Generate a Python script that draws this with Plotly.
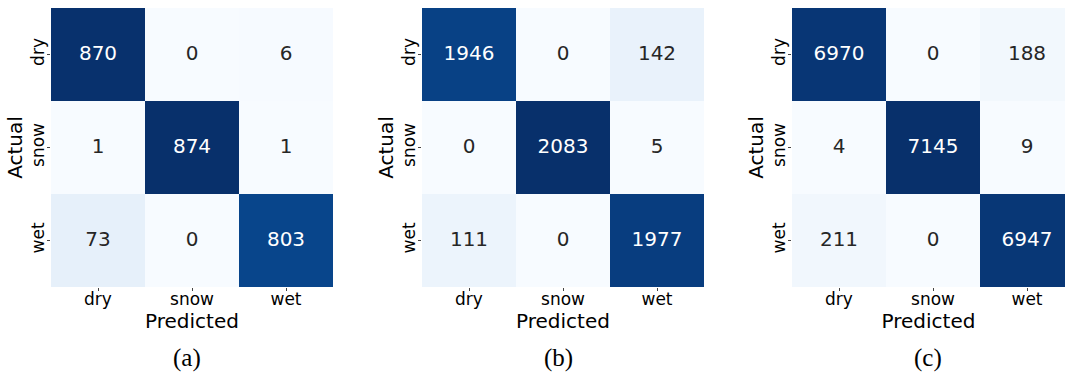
import plotly.graph_objects as go

# Confusion matrices (rows = actual, columns = predicted)
classes = ["dry", "snow", "wet"]
cm_a = [[870, 0, 6],
        [1, 874, 1],
        [73, 0, 803]]
cm_b = [[1946, 0, 142],
        [0, 2083, 5],
        [111, 0, 1977]]
cm_c = [[6970, 0, 188],
        [4, 7145, 9],
        [211, 0, 6947]]
captions = ["(a)", "(b)", "(c)"]

W, H = 1065, 374

# ColorBrewer "Blues" (same stops as matplotlib's Blues)
blues = ["#f7fbff", "#deebf7", "#c6dbef", "#9ecae1", "#6baed6",
         "#4292c6", "#2171b5", "#08519c", "#08306b"]
scale = [[i / (len(blues) - 1), c] for i, c in enumerate(blues)]


def hex_rgb(h):
    h = h.lstrip("#")
    return tuple(int(h[i:i + 2], 16) / 255 for i in (0, 2, 4))


def color_at(t):
    t = min(max(t, 0.0), 1.0)
    pos = t * (len(blues) - 1)
    i = min(int(pos), len(blues) - 2)
    f = pos - i
    a, b = hex_rgb(blues[i]), hex_rgb(blues[i + 1])
    return tuple(a[k] + (b[k] - a[k]) * f for k in range(3))


def luminance(rgb):
    lin = [c / 12.92 if c <= 0.03928 else ((c + 0.055) / 1.055) ** 2.4 for c in rgb]
    return 0.2126 * lin[0] + 0.7152 * lin[1] + 0.0722 * lin[2]


# panel placement in pixels
cell = 94.0
lefts = [51, 422, 792]
top_px, bot_px = 8, 287
ydom = [1 - bot_px / H, 1 - top_px / H]

font_main = "DejaVu Sans"
fig = go.Figure()
mats = [cm_a, cm_b, cm_c]
idx = [0, 1, 2]

for p, m in enumerate(mats):
    sfx = "" if p == 0 else str(p + 1)
    xa, ya = "x" + sfx, "y" + sfx
    zmin = min(min(r) for r in m)
    zmax = max(max(r) for r in m)
    fig.add_trace(go.Heatmap(
        z=m, x=idx, y=idx, colorscale=scale, zmin=zmin, zmax=zmax,
        showscale=False, xaxis=xa, yaxis=ya, hoverinfo="skip"))

    xs, ys, txt, cols = [], [], [], []
    for r in range(3):
        for c in range(3):
            v = m[r][c]
            lum = luminance(color_at((v - zmin) / (zmax - zmin)))
            xs.append(c)
            ys.append(r)
            txt.append(str(v))
            cols.append("#262626" if lum > 0.408 else "#ffffff")
    fig.add_trace(go.Scatter(
        x=xs, y=ys, mode="text", text=txt,
        textfont=dict(family=font_main, size=20, color=cols),
        textposition="middle center", showlegend=False,
        xaxis=xa, yaxis=ya, hoverinfo="skip"))

    left = lefts[p]
    right = min(left + 3 * cell, W)
    xr = [-0.5, -0.5 + (right - left) / cell]
    fig.layout["xaxis" + sfx] = dict(
        domain=[left / W, right / W], range=xr, anchor=ya,
        tickmode="array", tickvals=idx, ticktext=classes,
        ticks="outside", ticklen=3, tickwidth=1, tickcolor="#444",
        ticklabelstandoff=-6,
        tickfont=dict(family=font_main, size=17, color="#000"),
        showgrid=False, zeroline=False, showline=False,
        title=dict(text="Predicted", standoff=0,
                   font=dict(family=font_main, size=20, color="#000")))
    fig.layout["yaxis" + sfx] = dict(
        domain=ydom, range=[2.5, -0.5], anchor=xa,
        tickmode="array", tickvals=idx, ticktext=classes, tickangle=-90,
        ticks="outside", ticklen=3, tickwidth=1, tickcolor="#444",
        ticklabelstandoff=-4,
        tickfont=dict(family=font_main, size=17, color="#000"),
        showgrid=False, zeroline=False, showline=False,
        title=dict(text="Actual", standoff=0,
                   font=dict(family=font_main, size=20, color="#000")))

    fig.add_annotation(
        text=captions[p], xref="paper", yref="paper",
        x=(left + 1.5 * cell - 5) / W, y=1 - 358 / H,
        xanchor="center", yanchor="middle", showarrow=False,
        font=dict(family="Liberation Serif, Times New Roman, serif", size=25, color="#000"))

fig.update_layout(
    width=W, height=H, margin=dict(l=0, r=0, t=0, b=0),
    paper_bgcolor="white", plot_bgcolor="white", showlegend=False)

fig.write_html("out.html")
